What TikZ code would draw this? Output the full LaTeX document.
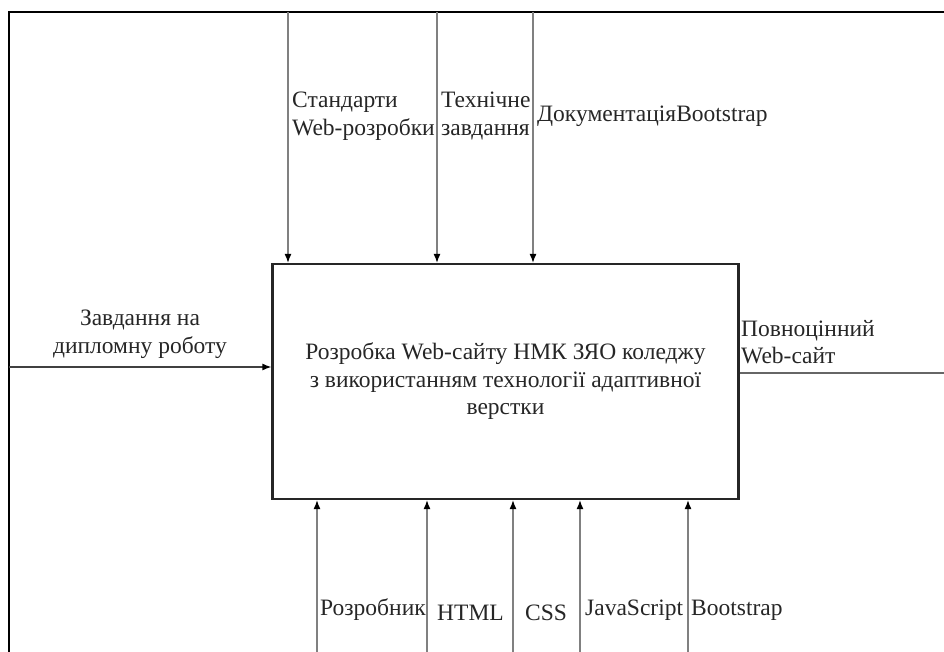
\documentclass[tikz,border=0pt]{standalone}
\usepackage{fontspec}
\setmainfont{Liberation Serif}
\usetikzlibrary{arrows.meta}
\usetikzlibrary{positioning}
\tikzset{
  flow/.style={draw=black!50,line width=1.3pt,arrows={-{Latex[length=9pt,width=7pt,black]}}},
  lbl/.style={inner sep=0pt,text=black!85,font=\fontsize{23.5}{27.5}\selectfont},
}
\begin{document}
\begin{tikzpicture}[x=1pt,y=-1pt]
\useasboundingbox (0,0) rectangle (944,652);
% frame
\draw[line width=2.6pt] (9,652) -- (9,12) -- (944,12);
% activity
\node[draw=black!85,line width=2.2pt,minimum width=466pt,minimum height=235pt,
      align=center,lbl,inner sep=0pt] (act) at (505.5,381.5)
  {Розробка Web-сайту НМК ЗЯО коледжу\\з використанням технології адаптивної\\верстки};
% controls (top)
\foreach \x/\name/\txt in {288/ctla/{Стандарти\\Web-розробки},437/ctlb/{Технічне\\завдання},533/ctlc/{ДокументаціяBootstrap}}{
  \coordinate (\name) at (\x,12);
  \draw[flow] (\name) -- (\name |- act.north);
  \node[lbl,anchor=west,align=left] at (\x+4,116) {\txt};
}
% mechanisms (bottom)
\foreach \x/\tx/\ty/\name/\txt in {317/320/610/mecha/Розробник,427/437/613/mechb/HTML,513/525/613/mechc/CSS,580/585/610/mechd/JavaScript,688/691/610/meche/Bootstrap}{
  \coordinate (\name) at (\x,652);
  \draw[flow] (\name) -- (\name |- act.south);
  \node[lbl,anchor=west] at (\tx,\ty) {\txt};
}
% input
\coordinate (inp) at (9,367);
\draw[flow,draw=black!75] (inp) -- (inp -| act.west);
\node[lbl,align=center] at (140,334) {Завдання на\\дипломну роботу};
% output
\coordinate (outp) at (944,373);
\draw[draw=black!60,line width=1.3pt] (outp -| act.east) -- (outp);
\node[lbl,anchor=west,align=left] at (741,342) {Повноцінний\\Web-сайт};
\end{tikzpicture}
\end{document}
